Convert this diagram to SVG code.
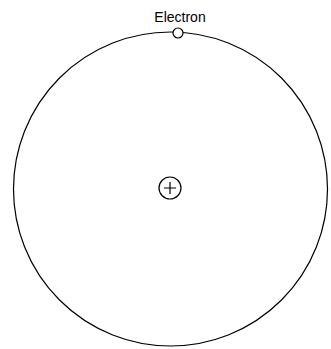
<svg xmlns="http://www.w3.org/2000/svg" width="331" height="349" viewBox="0 0 331 349">
<style>
.ln{fill:none;stroke:#000;stroke-width:1.2}
.wh{fill:#fff;stroke:#000;stroke-width:1.2}
text{font-family:"Liberation Sans",Arial,sans-serif;font-size:14px;fill:#000}
</style>
<rect width="331" height="349" fill="#fff"/>
<g id="orbit"><circle class="ln" cx="170.5" cy="189" r="157"/></g>
<g id="connectors"></g>
<g id="nucleus">
<circle class="ln" cx="170" cy="188" r="11"/>
<path class="ln" d="M164 188H176M170 182V194"/>
</g>
<g id="electron">
<circle class="wh" cx="178" cy="33" r="5"/>
<text x="180" y="22" text-anchor="middle">Electron</text>
</g>
</svg>
